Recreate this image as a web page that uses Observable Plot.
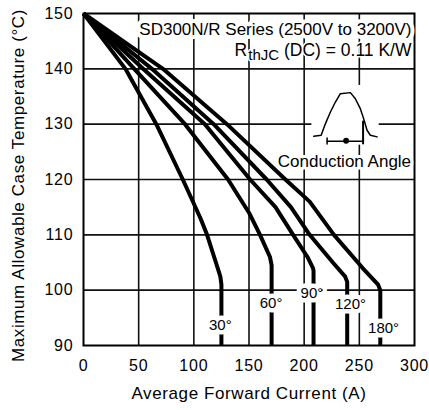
<!DOCTYPE html>
<html><head><meta charset="utf-8">
<script src="https://cdn.jsdelivr.net/npm/d3@7"></script>
<script src="https://cdn.jsdelivr.net/npm/@observablehq/plot@0.6"></script>
<style>body{margin:0;background:#fff}</style>
</head><body><div id="chart"></div>
<script>
// Series: conduction angle curves (current A, case temperature °C)
const angles = ["30°", "60°", "90°", "120°", "180°"];
const current30  = [0, 38, 66, 90, 106, 112, 120, 124, 125, 125];
const temp30     = [150, 140, 130, 120, 113, 110, 105, 102.5, 101, 90];
const current60  = [0, 46, 92, 131, 150, 160, 169, 170.5, 170.5];
const temp60     = [150, 140, 130, 120, 114, 110, 106, 104.5, 90];
const current90  = [0, 54, 110, 151, 174, 190, 203, 208, 208.5, 208.5];
const temp90     = [150, 140, 130, 120, 115, 110, 106, 104, 103.5, 90];
const current120 = [0, 62, 118, 166, 188, 205, 226, 237, 239, 239];
const temp120    = [150, 140, 130, 120, 115, 110, 105, 102.5, 101.5, 90];
const current180 = [0, 72, 130, 183, 205, 227, 253, 267, 269, 269];
const temp180    = [150, 140, 130, 120, 116, 110, 104, 101, 100, 90];

// Label anchor values for each curve
const labelCurrent = [124, 170, 207, 242, 272];
const labelTemp    = [93.7, 97.6, 99.5, 97.5, 93.2];

// Ticks
const xTicks = [0, 50, 100, 150, 200, 250, 300];
const yTicks = [90, 100, 110, 120, 130, 140, 150];
const xGrid = [50, 100, 150, 200, 250];
const yGrid = [100, 110, 120, 130, 140];

// Texts
const titleLine1 = "SD300N/R Series (2500V to 3200V)";
const titleLine2 = "RthJC (DC) = 0.11 K/W";
const iconLabel = "Conduction Angle";
const xLabel = "Average Forward Current (A)";
const yLabel = "Maximum Allowable Case Temperature (°C)";

// Inset conduction-angle icon (drawn in data units)
const iconWaveI = [208.7, 215.4, 219.3, 223.8, 228.3, 232.8, 241.9, 246.4, 250.9, 253.9, 257.0, 260.0, 266.1];
const iconWaveT = [127.8, 128.0, 130.1, 132.2, 134.0, 135.5, 135.7, 134.6, 132.8, 131.0, 128.9, 128.0, 127.7];
const iconArrowI = [220.8, 253.6];
const iconArrowT = [126.9, 126.9];
const iconTickI = [220.8, 220.8];
const iconTickT = [127.5, 126.4];
const iconMarkI = [253.4, 253.4];
const iconMarkT = [130.5, 126.5];
const iconDot = [{I: 238, T: 127.0}];
const iconBox = [{I1: 207, I2: 268, T1: 126.2, T2: 137}];
const iconLabelPos = [{I: 236.5, T: 123.3}];

const series = [
  [current30, temp30], [current60, temp60], [current90, temp90],
  [current120, temp120], [current180, temp180]
];
const rows = series.flatMap(([cs, ts], k) => cs.map((c, i) => ({angle: angles[k], I: c, T: ts[i]})));
const labels = angles.map((a, k) => ({angle: a, I: labelCurrent[k], T: labelTemp[k]}));
const wave = iconWaveI.map((v, i) => ({I: v, T: iconWaveT[i]}));
const arrow = iconArrowI.map((v, i) => ({I: v, T: iconArrowT[i]}));
const tick1 = iconTickI.map((v, i) => ({I: v, T: iconTickT[i]}));
const mark1 = iconMarkI.map((v, i) => ({I: v, T: iconMarkT[i]}));

const font = "'Liberation Sans', Arial, Helvetica, sans-serif";

const chart = Plot.plot({
  width: 429,
  height: 410,
  marginTop: 13,
  marginBottom: 65,
  marginLeft: 83,
  marginRight: 15,
  style: {fontFamily: font, fontSize: "16px", color: "#000", background: "#fff", overflow: "visible"},
  x: {domain: [0, 300], ticks: xTicks, tickSize: 0, tickPadding: 14, label: null, tickFormat: d => String(d)},
  y: {domain: [90, 150], ticks: yTicks, tickSize: 0, tickPadding: 10, label: null, tickFormat: d => String(d)},
  marks: [
    Plot.ruleX(xGrid, {stroke: "#111", strokeWidth: 1.6}),
    Plot.ruleY(yGrid, {stroke: "#111", strokeWidth: 1.6}),
    Plot.rect(iconBox, {x1: "I1", x2: "I2", y1: "T1", y2: "T2", fill: "#fff"}),
    Plot.line(rows, {x: "I", y: "T", z: "angle", stroke: "#000", strokeWidth: 4, strokeLinejoin: "round", strokeLinecap: "butt"}),
    Plot.text(labels, {x: "I", y: "T", text: "angle", fill: "#000", stroke: "#fff", strokeWidth: 9, fontSize: 15}),
    Plot.frame({stroke: "#000", strokeWidth: 2}),
    Plot.text([titleLine1], {frameAnchor: "top-right", textAnchor: "end", dx: -3, dy: 9, fill: "#000", stroke: "#fff", strokeWidth: 8, fontSize: 17}),
    Plot.text([titleLine2], {frameAnchor: "top-right", textAnchor: "end", dx: -3, dy: 30, fill: "#000", stroke: "#fff", strokeWidth: 3, fontSize: 17.5}),
    Plot.line(wave, {x: "I", y: "T", stroke: "#000", strokeWidth: 1.5}),
    Plot.line(arrow, {x: "I", y: "T", stroke: "#000", strokeWidth: 1.5}),
    Plot.line(tick1, {x: "I", y: "T", stroke: "#000", strokeWidth: 1.5}),
    Plot.line(mark1, {x: "I", y: "T", stroke: "#000", strokeWidth: 2}),
    Plot.dot(iconDot, {x: "I", y: "T", r: 2.2, fill: "#000", stroke: "#000"}),
    Plot.text(iconLabelPos, {x: "I", y: "T", text: () => iconLabel, fill: "#000", stroke: "#fff", strokeWidth: 6, fontSize: 17}),
    Plot.text([xLabel], {frameAnchor: "bottom", textAnchor: "middle", dy: 53, fill: "#000", fontSize: 17}),
    Plot.text([yLabel], {frameAnchor: "left", textAnchor: "middle", dx: -65, dy: 6, rotate: -90, fill: "#000", fontSize: 17})
  ]
});

// Subscript for R_thJC
d3.select(chart).selectAll("text").each(function() {
  if (this.textContent === titleLine2 && this.childElementCount === 0) {
    const t = d3.select(this);
    t.text(null);
    t.append("tspan").text("R");
    t.append("tspan").attr("dx", 1).attr("dy", 4).attr("font-size", "15px").text("thJC");
    t.append("tspan").attr("dy", -4).text(" (DC) = 0.11 K/W");
  }
});
// Slightly wider letter spacing for axis texts, as in the reference
d3.select(chart).selectAll("text").each(function() {
  const s = this.textContent;
  if (s === xLabel || s === yLabel) this.setAttribute("letter-spacing", "0.6");
  if (/^\d+$/.test(s)) this.setAttribute("letter-spacing", "0.8");
});

document.getElementById("chart").appendChild(chart);
</script>
</body></html>
